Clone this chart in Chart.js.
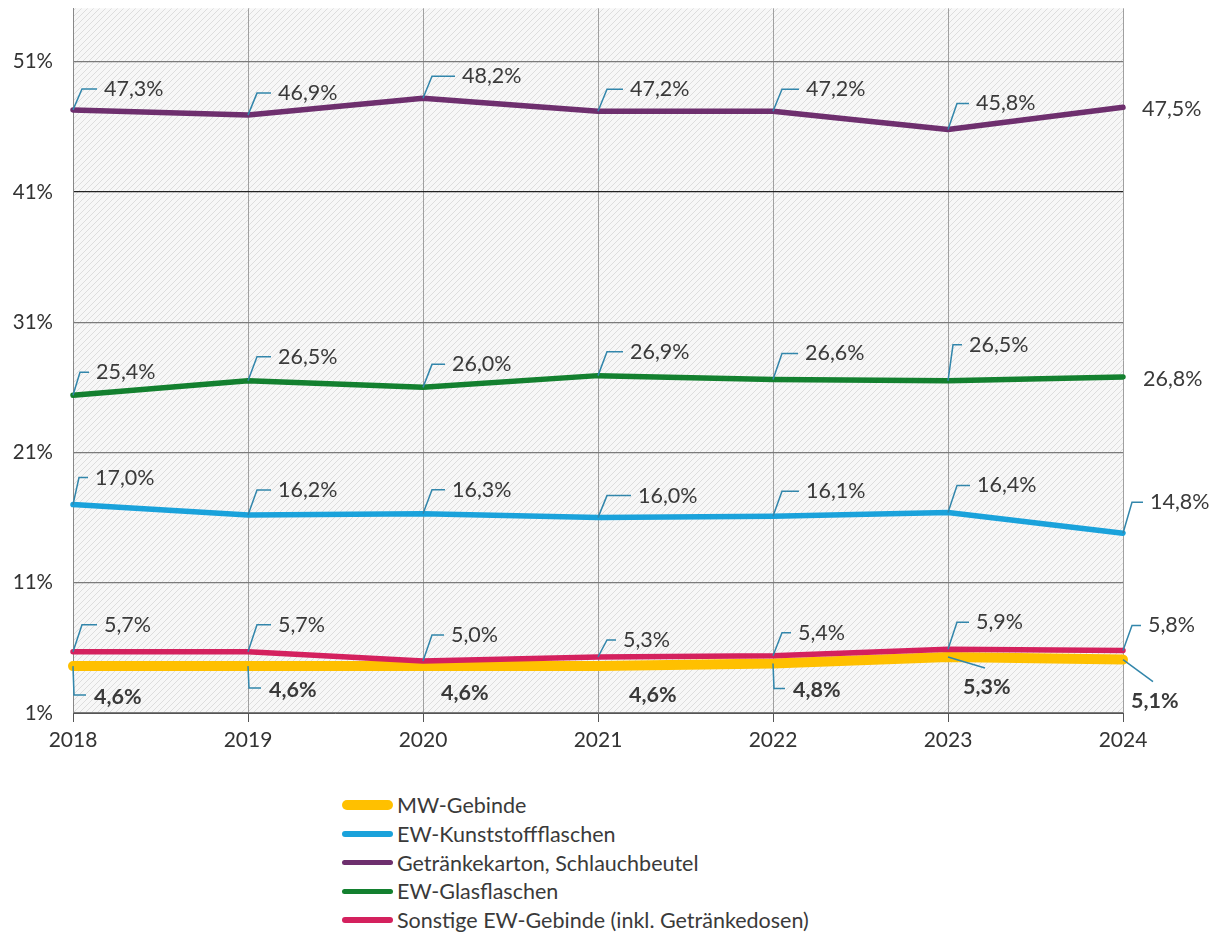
<!DOCTYPE html>
<html>
<head>
<meta charset="utf-8">
<script src="https://cdn.jsdelivr.net/npm/chart.js@4.4.1/dist/chart.umd.min.js"></script>
<style>
  body { margin: 0; background: #fff; width: 1219px; height: 936px; position: relative; overflow: hidden; }
  #wrap { position: absolute; left: 0; top: -24px; width: 1219px; height: 794px; }
  #legend { position: absolute; left: 342px; top: 791px; font-family: Lato, sans-serif; font-size: 21.5px; color: #3a3a3a; }
  .row { display: flex; align-items: center; height: 28.7px; }
  .swatch { width: 51px; border-radius: 5px; margin-right: 4px; }
</style>
</head>
<body>
<div id="wrap"><canvas id="chart"></canvas></div>
<div id="legend"></div>
<script>
// Values (percent)
const years = ['2018', '2019', '2020', '2021', '2022', '2023', '2024'];
const mwGebinde = [4.6, 4.6, 4.6, 4.6, 4.8, 5.3, 5.1];
const ewKunststoff = [17.0, 16.2, 16.3, 16.0, 16.1, 16.4, 14.8];
const getraenkekarton = [47.3, 46.9, 48.2, 47.2, 47.2, 45.8, 47.5];
const ewGlas = [25.4, 26.5, 26.0, 26.9, 26.6, 26.5, 26.8];
const sonstige = [5.7, 5.7, 5.0, 5.3, 5.4, 5.9, 5.8];
const yTicks = [1, 11, 21, 31, 41, 51];

const seriesNames = ['MW-Gebinde', 'EW-Kunststoffflaschen', 'Getränkekarton, Schlauchbeutel', 'EW-Glasflaschen', 'Sonstige EW-Gebinde (inkl. Getränkedosen)'];
const seriesColors = ['#FFC000', '#1AA2DB', '#6E2F6E', '#13802F', '#D4215E'];
const seriesWidths = [10, 5.5, 5.5, 5.5, 5.5];

// label offsets in px from the point: [dx, dy, leader]
const labelPos = [
    [[21, 31, 'down'], [21, 24, 'down'], [18, 27, ''], [31, 29, ''], [20, 27, 'down'], [15, 30, 'diag'], [8, 41, 'diag']],
    [[22, -27, 'up'], [30, -25, 'up'], [29, -24, 'up'], [40, -22, 'up'], [33, -25, 'up'], [29, -27, 'up'], [27, -31, 'up']],
    [[31, -21, 'up'], [30, -22, 'up'], [39, -22, 'up'], [32, -22, 'up'], [33, -22, 'up'], [28, -26, 'up'], [19, 2, '']],
    [[23, -23, 'up'], [30, -24, 'up'], [29, -23, 'up'], [32, -24, 'up'], [32, -26, 'up'], [21, -36, 'up'], [20, 2, '']],
    [[31, -27, 'up'], [30, -27, 'up'], [28, -26, 'up'], [25, -17, 'up'], [25, -23, 'up'], [28, -27, 'up'], [25, -25, 'up']]
];

function fmt(v) {
    return v.toFixed(1).replace('.', ',') + '%';
}

// hatched plot background
function makeHatch() {
    const c = document.createElement('canvas');
    c.width = 6; c.height = 6;
    const g = c.getContext('2d');
    g.fillStyle = '#f7f7f7';
    g.fillRect(0, 0, 6, 6);
    g.strokeStyle = '#dddddd';
    g.lineWidth = 1;
    g.beginPath();
    g.moveTo(-1, 7); g.lineTo(7, -1);
    g.moveTo(-1, 1); g.lineTo(1, -1);
    g.moveTo(5, 7); g.lineTo(7, 5);
    g.stroke();
    return c;
}

const hatchPlugin = {
    id: 'hatch',
    beforeDraw(chart) {
        const { ctx, chartArea: a } = chart;
        ctx.save();
        ctx.fillStyle = ctx.createPattern(makeHatch(), 'repeat');
        ctx.fillRect(a.left, a.top, a.right - a.left, a.bottom - a.top);
        ctx.restore();
    }
};

const labelPlugin = {
    id: 'valueLabels',
    afterDatasetsDraw(chart) {
        const ctx = chart.ctx;
        ctx.save();
        chart.data.datasets.forEach((ds, di) => {
            const meta = chart.getDatasetMeta(di);
            meta.data.forEach((pt, i) => {
                const [dx, dy, kind] = labelPos[di][i];
                const tx = pt.x + dx, ty = pt.y + dy;
                ctx.strokeStyle = '#3286AB';
                ctx.lineWidth = 1.5;
                ctx.beginPath();
                if (kind === 'up') {
                    const c = Math.max(1, Math.min(9, dx - 16));
                    ctx.moveTo(pt.x, pt.y);
                    ctx.lineTo(pt.x + c, ty);
                    ctx.lineTo(tx - 7, ty);
                } else if (kind === 'down') {
                    ctx.moveTo(pt.x, pt.y);
                    ctx.lineTo(pt.x + 1, ty - 2);
                    ctx.lineTo(tx - 8, ty - 2);
                } else if (kind === 'diag') {
                    ctx.moveTo(pt.x, pt.y);
                    ctx.lineTo(tx + 22, ty - 19);
                }
                ctx.stroke();
                ctx.fillStyle = '#3a3a3a';
                ctx.font = (di === 0 ? 'bold ' : '') + '21.5px Lato, sans-serif';
                ctx.textAlign = 'left';
                ctx.textBaseline = 'middle';
                ctx.fillText(fmt(ds.data[i]), tx, ty);
            });
        });
        ctx.restore();
    }
};

const allSeries = [mwGebinde, ewKunststoff, getraenkekarton, ewGlas, sonstige];
const drawOrder = [5, 2, 3, 4, 1];

const datasets = allSeries.map((data, i) => ({
    label: seriesNames[i],
    data: data,
    borderColor: seriesColors[i],
    backgroundColor: seriesColors[i],
    borderWidth: seriesWidths[i],
    borderCapStyle: 'round',
    borderJoinStyle: 'round',
    pointRadius: 0,
    tension: 0,
    clip: false,
    order: drawOrder[i]
}));

new Chart(document.getElementById('chart'), {
    type: 'line',
    data: { labels: years, datasets: datasets },
    options: {
        responsive: true,
        maintainAspectRatio: false,
        animation: false,
        events: [],
        layout: { padding: { top: 8, right: 96, left: 0, bottom: 0 } },
        plugins: { legend: { display: false }, tooltip: { enabled: false } },
        scales: {
            x: {
                type: 'category',
                offset: false,
                grid: { color: '#a0a0a0', lineWidth: 1, tickLength: 9, tickColor: '#555' },
                border: { display: true, color: '#555' },
                ticks: { color: '#333', font: { family: 'Lato', size: 21 }, padding: 6, maxRotation: 0 },
                afterFit(scale) { scale.height = 57; }
            },
            y: {
                min: 1,
                max: 55.1,
                afterBuildTicks(scale) { scale.ticks = yTicks.map(v => ({ value: v })); },
                grid: {
                    drawTicks: false,
                    color: ctx => (ctx.tick && ctx.tick.value === 41 ? '#222' : '#7a7a7a'),
                    lineWidth: 1.2
                },
                border: { display: true, color: '#888' },
                ticks: {
                    color: '#333',
                    font: { family: 'Lato', size: 20.5 },
                    padding: 20,
                    callback: v => v + '%'
                },
                afterFit(scale) { scale.width = 73; }
            }
        }
    },
    plugins: [hatchPlugin, labelPlugin]
});

// legend below the chart
const legendDiv = document.getElementById('legend');
seriesNames.forEach((name, i) => {
    const row = document.createElement('div');
    row.className = 'row';
    row.innerHTML = `<span class="swatch" style="background:${seriesColors[i]};height:${seriesWidths[i]}px"></span><span>${name}</span>`;
    legendDiv.appendChild(row);
});
</script>
</body>
</html>
